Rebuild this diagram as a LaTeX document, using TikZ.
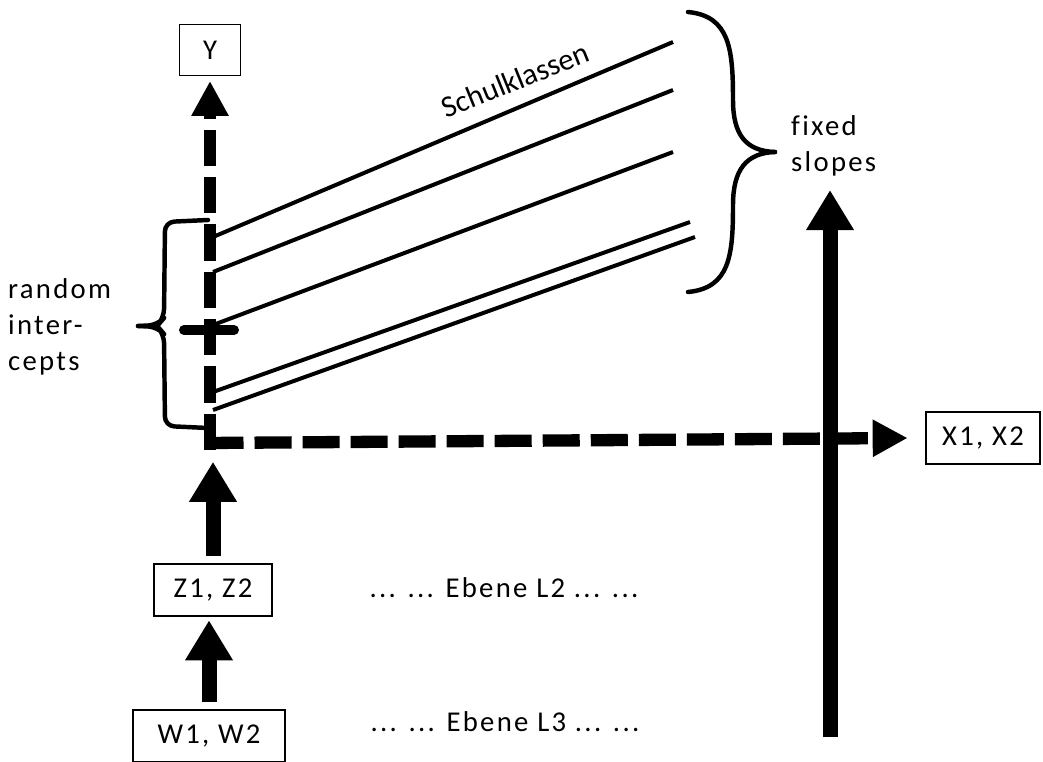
\documentclass[tikz,border=0pt]{standalone}
\usepackage{fontspec}
\setmainfont{Carlito}[LetterSpace=8, Ligatures=NoCommon]
\newfontfamily\plainfont{Carlito}[Ligatures=NoCommon]
\usepackage{tikz}
\usetikzlibrary{positioning, calc, arrows.meta}

\begin{document}
\begin{tikzpicture}[x=0.03cm, y=-0.03cm,
  every node/.style={font=\fontsize{24.5}{30.7}\selectfont, align=left, inner sep=0pt},
  box/.style={draw, line width=1.3pt, minimum height=1.56cm, align=center},
  axis/.style={line width=10.5pt, dash pattern=on 31pt off 9.4pt,
    -{Triangle[length=1.05cm, width=1.05cm]}},
  bigarrow/.style={line width=12.8pt, -{Triangle[length=1.2cm, width=1.35cm]}},
  slope/.style={line width=3.4pt},
  brace/.style={line width=3.8pt, line cap=round, line join=round},
]
\useasboundingbox (0,0) rectangle (1043,762);

% Boxes
\node[box, minimum width=1.83cm, minimum height=1.53cm] (y) at (210, 50) {Y};
\node[box, minimum width=3.42cm] (x) at (983, 438) {X1, X2};
\node[box, minimum width=3.54cm] (z) at (213, 590) {Z1, Z2};
\node[box, minimum width=4.56cm] (w) at (209, 736) {W1, W2};

% Axes
\coordinate (corner) at (210, 443);
\draw[axis] ([yshift=-6pt]corner) -- ([yshift=-4pt]y.south);
\draw[axis, dash pattern=on 31.6pt off 9.4pt] ([xshift=-3pt]corner) -- ([xshift=-15pt]x.west);

% Upward arrows from the levels
\draw[bigarrow, shorten <=6pt] (z.north) -- ([yshift=-16pt]z.north |- corner);
\draw[bigarrow, shorten <=6pt] (w.north) -- ([yshift=-3pt]z.south -| w.north);

% Fixed-slope arrow
\coordinate (sbot) at (830, 737);
\coordinate (stop) at (830, 190);
\draw[bigarrow] (sbot) -- (stop);

% Schulklassen lines
\foreach \ya/\xb/\yb in {237/673/42, 272/673/90, 325/673/152, 392/690/222, 410/695/237}
  \draw[slope] (213, \ya) -- (\xb, \yb);
\node[rotate=22, font=\plainfont\fontsize{26}{30}\selectfont] (sk) at (515, 80) {Schulklassen};

% Intercept mark
\draw[line width=8.5pt, line cap=round] (184, 330) -- (234, 330);

% Left brace
\draw[brace, rounded corners=8pt] (208, 220) -- (165, 222) -- (164, 318) -- (158, 325) -- (138, 326);
\draw[brace, rounded corners=8pt] (138, 326) -- (158, 327) -- (164, 334) -- (165, 426) -- (208, 428);
\node[anchor=west] (ri) at (8, 327) {random\\inter-\\cepts};

% Right brace
\draw[brace] (688, 12) .. controls (730, 16) and (733, 50) .. (733, 100)
  .. controls (733, 135) and (746, 151) .. (775, 152);
\draw[brace] (775, 152) .. controls (746, 153) and (733, 170) .. (733, 205)
  .. controls (733, 255) and (730, 288) .. (688, 292);
\node[anchor=west] (fs) at (791, 146) {fixed\\slopes};

% Level labels
\node (l2) at (504, 588) {... ... Ebene L2 ... ...};
\node (l3) at (505, 722) {... ... Ebene L3 ... ...};

\end{tikzpicture}
\end{document}
